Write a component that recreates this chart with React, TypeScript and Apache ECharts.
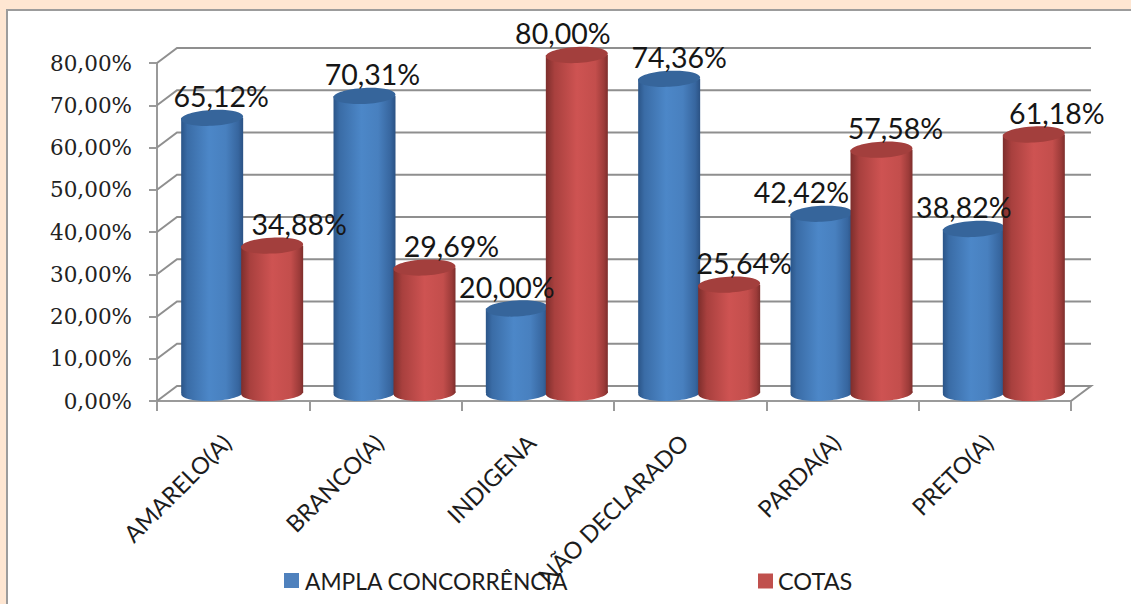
import React, { useEffect, useRef } from "react";
import * as echarts from "echarts";

const categories = ["AMARELO(A)", "BRANCO(A)", "INDIGENA", "NÃO DECLARADO", "PARDA(A)", "PRETO(A)"];
const amplaName = "AMPLA CONCORRÊNCIA";
const cotasName = "COTAS";
const amplaValues = [65.12, 70.31, 20.0, 74.36, 42.42, 38.82];
const cotasValues = [34.88, 29.69, 80.0, 25.64, 57.58, 61.18];
const gridValues = [0, 10, 20, 30, 40, 50, 60, 70, 80];

const DEPTH_X = 20;
const DEPTH_Y = 15;
const RX = 31;
const RY = 8;
const amplaLabelNudge = [9, 8, -10, 10, -20, -10];
const cotasLabelNudge = [27, 27, -14, 15, 14, 23];

const fmt = (v: number) => v.toFixed(2).replace(".", ",") + "%";

const gradient = (stops: [number, string][]) =>
  new echarts.graphic.LinearGradient(0, 0, 1, 0, stops.map(([offset, color]) => ({ offset, color })));

const blueStops: [number, string][] = [
  [0, "#2b5588"], [0.1, "#3a6ca6"], [0.45, "#4c87c8"], [0.72, "#4880bf"], [0.92, "#37669f"], [1, "#2b5284"],
];
const redStops: [number, string][] = [
  [0, "#7d2e2c"], [0.14, "#a8403e"], [0.5, "#ce5352"], [0.8, "#c34e4c"], [0.94, "#9c3b39"], [1, "#7d2e2c"],
];

const cylinderSeries = (name: string, values: number[], offset: number, stops: [number, string][], top: string, legendColor: string, z: number) => ({
  type: "custom",
  name,
  z,
  clip: false,
  silent: true,
  itemStyle: { color: legendColor },
  encode: { x: 0, y: 1 },
  data: values.map((v, i) => [i, v]),
  renderItem: (_: any, api: any) => {
    const i = api.value(0);
    const p = api.coord([i, api.value(1)]);
    const b = api.coord([i, 0]);
    const cx = p[0] + offset;
    const topY = p[1] - 8;
    const baseY = b[1] - 8;
    const fill = gradient(stops);
    return {
      type: "group",
      children: [
        { type: "ellipse", x: cx, y: baseY, rotation: 0.04, shape: { cx: 0, cy: 0, rx: RX, ry: RY }, style: { fill } },
        { type: "rect", shape: { x: cx - RX, y: topY, width: RX * 2, height: baseY - topY }, style: { fill } },
        { type: "ellipse", x: cx, y: topY, rotation: 0.05, shape: { cx: 0, cy: 0, rx: RX, ry: RY }, style: { fill: top } },
      ],
    };
  },
});

const labelSeries = (id: string, values: number[], nudge: number[], offset: number) => ({
  type: "custom",
  id,
  z: 20,
  clip: false,
  silent: true,
  encode: { x: 0, y: 1 },
  data: values.map((v, i) => [i, v]),
  renderItem: (_: any, api: any) => {
    const i = api.value(0);
    const v = api.value(1);
    const p = api.coord([i, v]);
    return {
      type: "text",
      x: p[0] + offset + nudge[i],
      y: p[1] - 30,
      style: {
        text: fmt(v),
        fill: "#161616",
        font: "28.5px Lato",
        align: "center",
        verticalAlign: "middle",
      },
    };
  },
});

export default function App() {
  const ref = useRef<HTMLDivElement>(null);
  useEffect(() => {
    const chart = echarts.init(ref.current!, null, { renderer: "svg" });
    chart.setOption({
      animation: false,
      backgroundColor: "#fee6d2",
      graphic: [
        {
          type: "rect",
          z: -10,
          shape: { x: 7, y: 10, width: 1140, height: 610 },
          style: { fill: "#ffffff", stroke: "#9c9c9c", lineWidth: 2 },
        },
      ],
      grid: { left: 157, right: 60, top: 63, bottom: 203, containLabel: false },
      legend: [
        {
          left: 279,
          top: 564,
          itemWidth: 15,
          itemHeight: 15,
          itemGap: 0,
          data: [{ name: amplaName, icon: "rect" }],
          textStyle: { fontFamily: "Lato", fontSize: 22.8, color: "#1c1c1c", padding: [0, 0, 0, 1] },
        },
        {
          left: 753,
          top: 564,
          itemWidth: 15,
          itemHeight: 15,
          itemGap: 0,
          data: [{ name: cotasName, icon: "rect" }],
          textStyle: { fontFamily: "Lato", fontSize: 23.5, color: "#1c1c1c", padding: [0, 0, 0, 0] },
        },
      ],
      xAxis: {
        type: "category",
        data: categories,
        axisLine: { lineStyle: { color: "#9a9a9a", width: 2 } },
        axisTick: { show: true, length: 10, lineStyle: { color: "#9a9a9a", width: 2 } },
        axisLabel: {
          rotate: 45,
          interval: 0,
          margin: 31,
          padding: [0, 9, 0, 0],
          fontFamily: "Lato",
          fontSize: 23.5,
          color: "#1c1c1c",
        },
      },
      yAxis: {
        type: "value",
        min: 0,
        max: 80,
        interval: 10,
        splitLine: { show: false },
        axisLine: { show: true, lineStyle: { color: "#9a9a9a", width: 2 } },
        axisTick: { show: true, length: 8, lineStyle: { color: "#9a9a9a", width: 2 } },
        axisLabel: {
          margin: 25,
          fontFamily: "DejaVu Serif",
          fontSize: 21.5,
          color: "#222222",
          formatter: (v: number) => fmt(v),
        },
      },
      series: [
        {
          type: "custom",
          id: "wall",
          z: 1,
          clip: false,
          silent: true,
          encode: { x: 0, y: 1 },
          data: gridValues.map((v) => [0, v]),
          renderItem: (params: any, api: any) => {
            const cs = params.coordSys;
            const y = api.coord([0, api.value(1)])[1];
            return {
              type: "group",
              children: [
                {
                  type: "polyline",
                  shape: {
                    points: [
                      [cs.x, y],
                      [cs.x + DEPTH_X, y - DEPTH_Y],
                      [cs.x + cs.width + DEPTH_X, y - DEPTH_Y],
                      ...(api.value(1) === 0 ? [[cs.x + cs.width, y]] : []),
                    ],
                  },
                  style: { fill: "none", stroke: "#8f8f8f", lineWidth: 2 },
                },
              ],
            };
          },
        },
        cylinderSeries(amplaName, amplaValues, -21, blueStops, "#36659b", "#4f81bd", 5),
        cylinderSeries(cotasName, cotasValues, 39, redStops, "#a33f3d", "#c0504d", 6),
        labelSeries("amplaLabels", amplaValues, amplaLabelNudge, -21),
        labelSeries("cotasLabels", cotasValues, cotasLabelNudge, 39),
      ],
    });
    return () => chart.dispose();
  }, []);
  return <div ref={ref} style={{ position: "absolute", left: 0, top: 0, width: 1131, height: 604 }} />;
}
